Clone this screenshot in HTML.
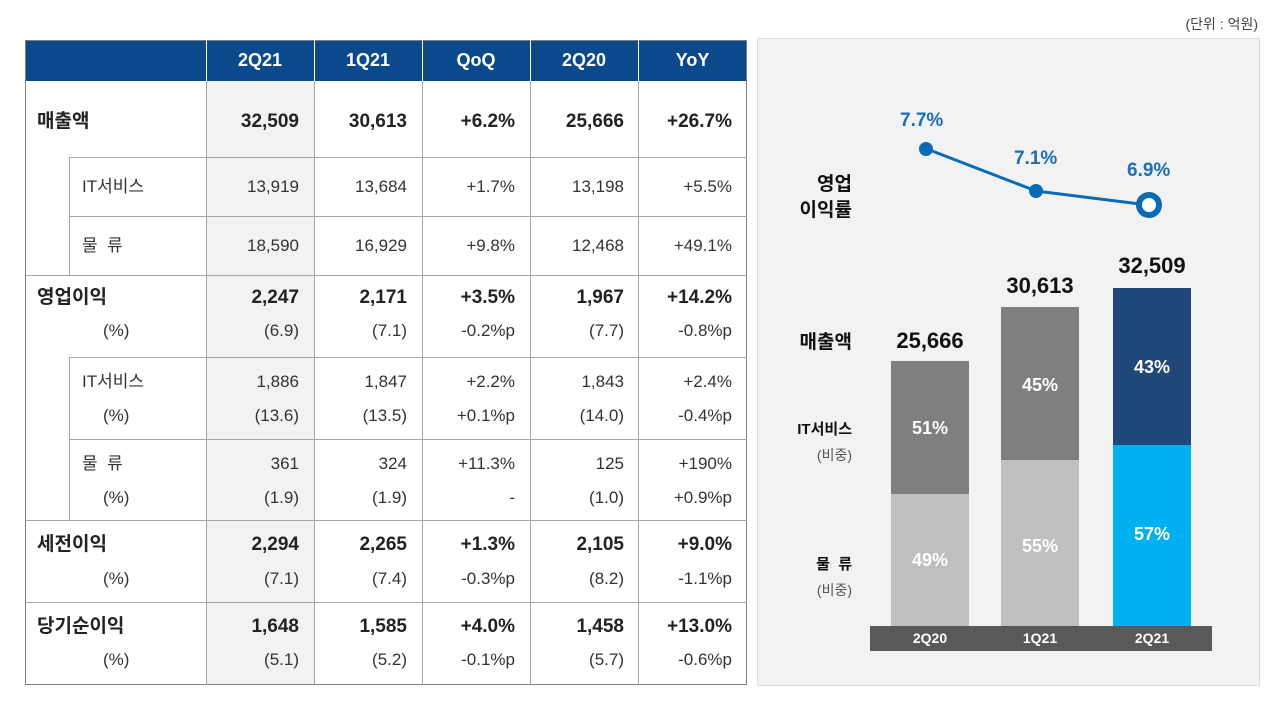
<!DOCTYPE html>
<html><head><meta charset="utf-8"><style>
body{margin:0;width:1280px;height:712px;background:#fff;position:relative;overflow:hidden;font-family:"Liberation Sans","Noto Sans CJK KR",sans-serif;color:#333}
.a{position:absolute}
.hl{position:absolute;height:1px;background:#a6a6a6}
.vl{position:absolute;width:1px;background:#a6a6a6}
.r{position:absolute;height:24px;line-height:24px;font-size:17px;white-space:nowrap}
.r span{position:absolute;text-align:right;width:100px}
.r span.l{text-align:left}
.b{font-weight:bold;font-size:19px;color:#222}
.h{position:absolute;top:40px;height:41px;line-height:41px;color:#fff;font-weight:bold;font-size:18px;text-align:center}
.r span.c1{left:199px}.r span.c2{left:307px}.r span.c3{left:415px}.r span.c4{left:524px}.r span.c5{left:632px}
.w{color:#fff;font-weight:bold;font-size:18px;text-align:center;width:78px;position:absolute}
.k{position:absolute;font-weight:bold;color:#111}
</style></head><body>
<div class="a" style="right:22px;top:14px;font-size:14px;color:#444">(단위 : 억원)</div>
<div class="a" style="left:25px;top:40px;width:722px;height:41px;background:#0a4a8c"></div>
<div class="a" style="left:206px;top:81px;width:108px;height:604px;background:#f2f2f2"></div>
<div class="a" style="left:25px;top:40px;width:720px;height:643px;border:1px solid #7f7f7f"></div>
<div class="h" style="left:206px;width:108px">2Q21</div>
<div class="h" style="left:314px;width:108px">1Q21</div>
<div class="h" style="left:422px;width:108px">QoQ</div>
<div class="h" style="left:530px;width:108px">2Q20</div>
<div class="h" style="left:638px;width:109px">YoY</div>
<div class="a" style="left:206px;top:40px;width:1px;height:41px;background:#fff"></div>
<div class="a" style="left:314px;top:40px;width:1px;height:41px;background:#fff"></div>
<div class="a" style="left:422px;top:40px;width:1px;height:41px;background:#fff"></div>
<div class="a" style="left:530px;top:40px;width:1px;height:41px;background:#fff"></div>
<div class="a" style="left:638px;top:40px;width:1px;height:41px;background:#fff"></div>
<div class="vl" style="left:206px;top:81px;height:604px"></div>
<div class="vl" style="left:314px;top:81px;height:604px"></div>
<div class="vl" style="left:422px;top:81px;height:604px"></div>
<div class="vl" style="left:530px;top:81px;height:604px"></div>
<div class="vl" style="left:638px;top:81px;height:604px"></div>
<div class="vl" style="left:69px;top:157px;height:118px"></div>
<div class="vl" style="left:69px;top:357px;height:163px"></div>
<div class="hl" style="left:69px;top:157px;width:678px"></div>
<div class="hl" style="left:69px;top:216px;width:678px"></div>
<div class="hl" style="left:25px;top:275px;width:722px"></div>
<div class="hl" style="left:69px;top:357px;width:678px"></div>
<div class="hl" style="left:69px;top:439px;width:678px"></div>
<div class="hl" style="left:25px;top:520px;width:722px"></div>
<div class="hl" style="left:25px;top:602px;width:722px"></div>

<div class="r b" style="top:110px;left:0;width:760px"><span class="l" style="left:37px">매출액</span><span class="c1">32,509</span><span class="c2">30,613</span><span class="c3">+6.2%</span><span class="c4">25,666</span><span class="c5">+26.7%</span></div>
<div class="r" style="top:175px;left:0;width:760px"><span class="l" style="left:82px">IT서비스</span><span class="c1">13,919</span><span class="c2">13,684</span><span class="c3">+1.7%</span><span class="c4">13,198</span><span class="c5">+5.5%</span></div>
<div class="r" style="top:234px;left:0;width:760px"><span class="l" style="left:82px">물 &nbsp;류</span><span class="c1">18,590</span><span class="c2">16,929</span><span class="c3">+9.8%</span><span class="c4">12,468</span><span class="c5">+49.1%</span></div>
<div class="r b" style="top:286px;left:0;width:760px"><span class="l" style="left:37px">영업이익</span><span class="c1">2,247</span><span class="c2">2,171</span><span class="c3">+3.5%</span><span class="c4">1,967</span><span class="c5">+14.2%</span></div>
<div class="r" style="top:319px;left:0;width:760px"><span class="l" style="left:103px">(%)</span><span class="c1">(6.9)</span><span class="c2">(7.1)</span><span class="c3">-0.2%p</span><span class="c4">(7.7)</span><span class="c5">-0.8%p</span></div>
<div class="r" style="top:370px;left:0;width:760px"><span class="l" style="left:82px">IT서비스</span><span class="c1">1,886</span><span class="c2">1,847</span><span class="c3">+2.2%</span><span class="c4">1,843</span><span class="c5">+2.4%</span></div>
<div class="r" style="top:404px;left:0;width:760px"><span class="l" style="left:103px">(%)</span><span class="c1">(13.6)</span><span class="c2">(13.5)</span><span class="c3">+0.1%p</span><span class="c4">(14.0)</span><span class="c5">-0.4%p</span></div>
<div class="r" style="top:452px;left:0;width:760px"><span class="l" style="left:82px">물 &nbsp;류</span><span class="c1">361</span><span class="c2">324</span><span class="c3">+11.3%</span><span class="c4">125</span><span class="c5">+190%</span></div>
<div class="r" style="top:486px;left:0;width:760px"><span class="l" style="left:103px">(%)</span><span class="c1">(1.9)</span><span class="c2">(1.9)</span><span class="c3">-</span><span class="c4">(1.0)</span><span class="c5">+0.9%p</span></div>
<div class="r b" style="top:533px;left:0;width:760px"><span class="l" style="left:37px">세전이익</span><span class="c1">2,294</span><span class="c2">2,265</span><span class="c3">+1.3%</span><span class="c4">2,105</span><span class="c5">+9.0%</span></div>
<div class="r" style="top:567px;left:0;width:760px"><span class="l" style="left:103px">(%)</span><span class="c1">(7.1)</span><span class="c2">(7.4)</span><span class="c3">-0.3%p</span><span class="c4">(8.2)</span><span class="c5">-1.1%p</span></div>
<div class="r b" style="top:615px;left:0;width:760px"><span class="l" style="left:37px">당기순이익</span><span class="c1">1,648</span><span class="c2">1,585</span><span class="c3">+4.0%</span><span class="c4">1,458</span><span class="c5">+13.0%</span></div>
<div class="r" style="top:648px;left:0;width:760px"><span class="l" style="left:103px">(%)</span><span class="c1">(5.1)</span><span class="c2">(5.2)</span><span class="c3">-0.1%p</span><span class="c4">(5.7)</span><span class="c5">-0.6%p</span></div>

<div class="a" style="left:757px;top:38px;width:501px;height:646px;background:#f2f2f2;border:1px solid #ddd"></div>
<svg class="a" style="left:0;top:0" width="1280" height="712">
<line x1="927" y1="149" x2="1036" y2="191" stroke="#0a6ab8" stroke-width="3"/>
<line x1="1036" y1="191" x2="1148" y2="205" stroke="#0a6ab8" stroke-width="3"/>
<circle cx="926" cy="149" r="7" fill="#0a6ab8"/>
<circle cx="1036" cy="191" r="7" fill="#0a6ab8"/>
<circle cx="1149" cy="205" r="10" fill="#fff" stroke="#0a6ab8" stroke-width="6"/>
</svg>
<div class="a" style="left:900px;top:110px;font-size:19px;font-weight:bold;color:#1a6fb8">7.7%</div>
<div class="a" style="left:1014px;top:148px;font-size:19px;font-weight:bold;color:#1a6fb8">7.1%</div>
<div class="a" style="left:1127px;top:160px;font-size:19px;font-weight:bold;color:#1a6fb8">6.9%</div>
<div class="k" style="left:790px;top:172px;width:62px;text-align:right;font-size:19px;line-height:26px">영업<br>이익률</div>
<div class="k" style="left:790px;top:327px;width:62px;text-align:right;font-size:19px">매출액</div>
<div class="k" style="left:770px;top:418px;width:82px;text-align:right;font-size:15px">IT서비스</div>
<div class="a" style="left:770px;top:445px;width:82px;text-align:right;font-size:14px;color:#555">(비중)</div>
<div class="k" style="left:770px;top:553px;width:82px;text-align:right;font-size:15px">물 &nbsp;류</div>
<div class="a" style="left:770px;top:580px;width:82px;text-align:right;font-size:14px;color:#555">(비중)</div>

<div class="a" style="left:891px;top:361px;width:78px;height:133px;background:#7f7f7f"></div>
<div class="a" style="left:891px;top:494px;width:78px;height:132px;background:#bfbfbf"></div>
<div class="a" style="left:1001px;top:307px;width:78px;height:153px;background:#7f7f7f"></div>
<div class="a" style="left:1001px;top:460px;width:78px;height:166px;background:#bfbfbf"></div>
<div class="a" style="left:1113px;top:288px;width:78px;height:157px;background:#1f4777"></div>
<div class="a" style="left:1113px;top:445px;width:78px;height:181px;background:#00b0f0"></div>
<div class="w" style="left:891px;top:418px">51%</div>
<div class="w" style="left:891px;top:550px">49%</div>
<div class="w" style="left:1001px;top:375px">45%</div>
<div class="w" style="left:1001px;top:536px">55%</div>
<div class="w" style="left:1113px;top:357px">43%</div>
<div class="w" style="left:1113px;top:524px">57%</div>
<div class="k" style="left:870px;top:328px;width:120px;text-align:center;font-size:22px">25,666</div>
<div class="k" style="left:980px;top:273px;width:120px;text-align:center;font-size:22px">30,613</div>
<div class="k" style="left:1092px;top:253px;width:120px;text-align:center;font-size:22px">32,509</div>
<div class="a" style="left:870px;top:626px;width:342px;height:25px;background:#595959"></div>
<div class="a" style="left:891px;top:626px;width:78px;line-height:25px;text-align:center;color:#fff;font-weight:bold;font-size:14px">2Q20</div>
<div class="a" style="left:1001px;top:626px;width:78px;line-height:25px;text-align:center;color:#fff;font-weight:bold;font-size:14px">1Q21</div>
<div class="a" style="left:1113px;top:626px;width:78px;line-height:25px;text-align:center;color:#fff;font-weight:bold;font-size:14px">2Q21</div>
</body></html>
